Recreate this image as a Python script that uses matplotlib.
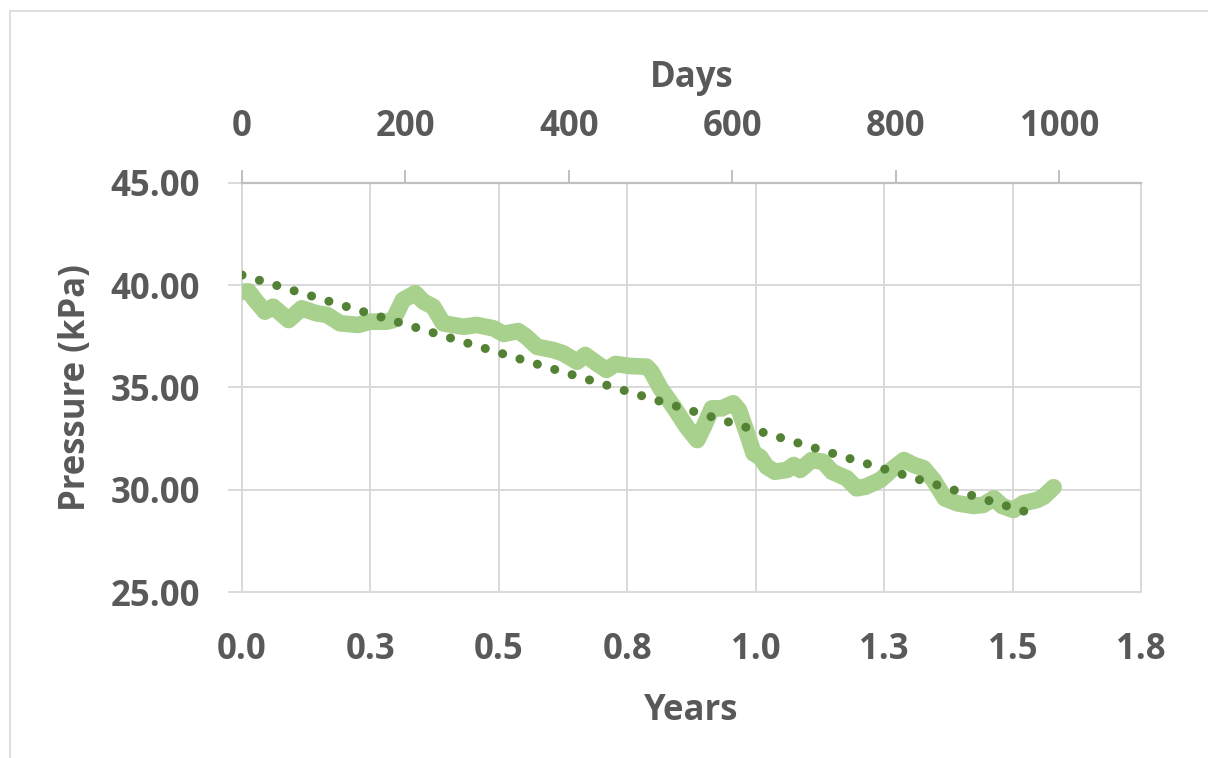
import numpy as np
import matplotlib
matplotlib.use("Agg")
import matplotlib.pyplot as plt
from matplotlib.patches import Rectangle

# Measured series (days since start, pressure in kPa)
days = [0, 8, 16, 28, 38, 57, 73, 91, 104, 120, 142, 157, 177, 185, 197, 212,
        222, 234, 246, 271, 287, 308, 320, 338, 348, 361, 381, 393, 410, 420,
        434, 446, 457, 475, 495, 501, 512, 528, 544, 557, 565, 575, 587, 601,
        608, 618, 626, 634, 642, 652, 667, 675, 683, 697, 711, 722, 740, 752,
        763, 781, 797, 810, 822, 834, 846, 860, 875, 895, 907, 920, 930, 944,
        956, 973, 981, 993]
pressure = [39.68, 39.70, 39.28, 38.71, 38.95, 38.30, 38.87, 38.63, 38.55, 38.14,
            38.06, 38.22, 38.22, 38.30, 39.28, 39.61, 39.20, 38.95, 38.14, 37.97,
            38.06, 37.89, 37.62, 37.76, 37.48, 36.99, 36.83, 36.67, 36.26, 36.59,
            36.18, 35.86, 36.15, 36.05, 36.02, 35.77, 34.96, 34.06, 33.08, 32.43,
            33.08, 33.98, 33.98, 34.23, 33.90, 32.76, 31.78, 31.60, 31.13, 30.88,
            30.97, 31.21, 30.97, 31.45, 31.37, 30.88, 30.56, 30.07, 30.15, 30.48,
            31.05, 31.45, 31.21, 31.05, 30.48, 29.58, 29.34, 29.21, 29.26, 29.58,
            29.21, 29.01, 29.34, 29.50, 29.66, 30.12]

# Linear trend (end points)
trend_days = [0, 976]
trend_pressure = [40.50, 28.72]

year_ticks = [0, 0.25, 0.5, 0.75, 1.0, 1.25, 1.5, 1.75]
year_labels = ["0.0", "0.3", "0.5", "0.8", "1.0", "1.3", "1.5", "1.8"]
day_ticks = [0, 200, 400, 600, 800, 1000]
pressure_ticks = [25, 30, 35, 40, 45]

TEXT = "#595959"
GRID = "#d9d9d9"
AXIS = "#bfbfbf"

plt.rcParams["font.family"] = ["Open Sans", "DejaVu Sans"]
plt.rcParams["font.weight"] = "bold"

fig = plt.figure(figsize=(12.08, 7.58), dpi=100)
ax = fig.add_axes([242 / 1208, 1 - 592 / 758, (1141 - 242) / 1208, (592 - 183) / 758])

# outer chart border (cropped at right/bottom)
fig.patches.append(Rectangle((10 / 1208, -0.1), 1.2, 1.1 - 11 / 758,
                             transform=fig.transFigure, fill=False,
                             edgecolor=GRID, linewidth=1.2))

fs = 25

# bottom axis: years
ax.set_xlim(0, 1.75)
ax.set_ylim(25, 45)
ax.set_xticks(year_ticks)
ax.set_xticklabels(year_labels)
ax.set_yticks(pressure_ticks)
ax.set_yticklabels([f"{v:.2f}" for v in pressure_ticks])
ax.grid(True, color=GRID, linewidth=1.4)
ax.set_axisbelow(True)
ax.tick_params(axis="x", length=0, pad=29, labelsize=fs, labelcolor=TEXT)
ax.tick_params(axis="y", length=10, width=1.4, color=GRID, pad=20,
               labelsize=fs, labelcolor=TEXT)
for s in ["left", "bottom", "right"]:
    ax.spines[s].set_color(GRID)
    ax.spines[s].set_linewidth(1.4)
ax.spines["top"].set_visible(False)
ax.set_xlabel("Years", fontsize=fs, color=TEXT, fontweight="bold", labelpad=18)
ax.set_ylabel("Pressure (kPa)", fontsize=fs, color=TEXT, fontweight="bold", labelpad=12)

# top axis: days
ax2 = ax.twiny()
ax2.set_xlim(0, 1100)
ax2.set_ylim(25, 45)
ax2.set_xticks(day_ticks)
ax2.tick_params(axis="x", length=9.5, width=1.4, color=AXIS, pad=18,
                labelsize=fs, labelcolor=TEXT)
for s in ["left", "bottom", "right"]:
    ax2.spines[s].set_visible(False)
ax2.spines["top"].set_color(AXIS)
ax2.spines["top"].set_linewidth(1.6)
ax2.set_xlabel("Days", fontsize=fs, color=TEXT, fontweight="bold", labelpad=16)

ax2.plot(days, pressure, color="#A9D18E", linewidth=12,
         solid_capstyle="round", solid_joinstyle="round", zorder=2)
ax2.plot(trend_days, trend_pressure, color="#548235", linewidth=6.5,
         linestyle=(0, (0.01, 2.0)), dash_capstyle="round", zorder=3)

fig.savefig("out.png", dpi=100)
